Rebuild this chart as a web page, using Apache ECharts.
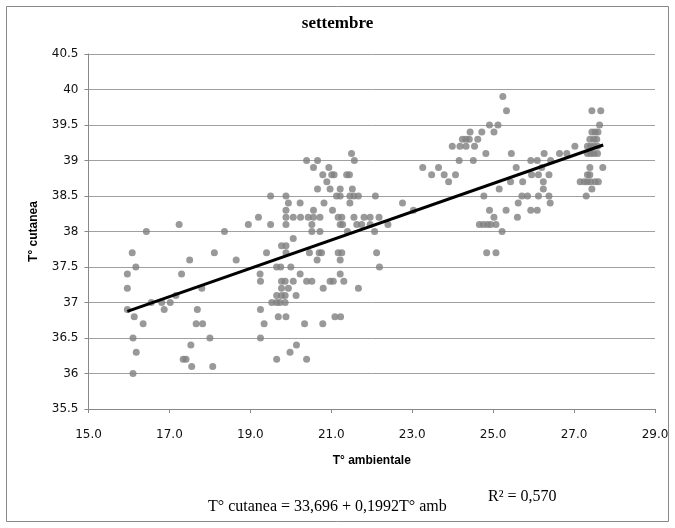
<!DOCTYPE html>
<html>
<head>
<meta charset="utf-8">
<script src="https://cdn.jsdelivr.net/npm/echarts@6/dist/echarts.min.js"></script>
<style>
  html, body { margin: 0; padding: 0; background: #fff; }
  #main { width: 675px; height: 528px; }
</style>
</head>
<body>
<div id="main"></div>
<script>
// T° ambientale (x) e T° cutanea (y)
var tAmb = [
  16.43, 17.24, 18.36, 16.08, 16.17, 15.96, 15.96, 17.30, 17.50, 18.11, 18.65, 17.80, 17.16, 16.55, 16.81, 17.02,
  15.96, 16.13, 16.87, 17.69, 16.35, 17.66, 17.82, 16.10, 18.00, 16.18, 17.53, 17.34, 17.41, 17.55, 18.07, 16.10,
  20.39, 20.66, 21.50, 21.57, 20.56, 20.94, 20.79, 21.01, 21.07, 21.38, 21.45, 20.89, 20.66, 20.97, 21.22, 21.52,
  19.50, 19.88, 21.13, 21.22, 21.46, 21.56, 21.67, 19.94, 20.23, 20.82, 21.46, 19.88, 20.56, 21.03, 19.88, 20.06,
  20.24, 20.43, 20.56, 20.72, 21.17, 21.26, 21.56, 19.20, 18.95, 19.50, 19.88, 20.52, 21.22, 21.28, 21.63, 20.52,
  20.72, 21.40, 20.06, 19.77, 19.88, 19.40, 19.88, 20.46, 20.70, 20.76, 21.17, 21.26, 20.65, 21.22, 19.65, 19.75,
  20.00, 19.24, 20.23, 21.22, 19.25, 19.77, 19.86, 20.06, 20.39, 20.52, 20.97, 21.05, 21.31, 19.77, 19.94, 20.80,
  21.67, 19.65, 19.77, 19.86, 20.13, 19.53, 19.65, 19.73, 19.86, 19.25, 19.69, 19.88, 19.34, 20.34, 20.79, 21.09,
  21.23, 19.25, 20.14, 19.98, 19.65, 20.39,
  25.24, 25.33, 24.91, 25.12, 25.02, 24.43, 24.72, 24.24, 24.33, 24.41, 24.62, 23.99, 24.18, 24.33, 24.54, 24.82,
  25.45, 24.16, 24.51, 23.26, 23.65, 23.48, 23.79, 24.07, 23.90, 22.09, 24.77, 25.15, 22.76, 23.03, 24.91, 25.32,
  21.81, 21.96, 22.18, 25.02, 21.75, 21.96, 22.40, 24.66, 24.76, 24.86, 24.94, 25.07, 22.07, 25.22, 22.12, 24.84,
  25.07, 22.19,
  25.57, 25.43, 25.73, 25.93, 26.09, 26.26, 26.42, 26.64, 26.82, 27.02, 25.95, 26.12, 26.38, 26.20, 26.24, 26.24,
  25.71, 25.85, 26.12, 26.38, 25.62, 26.41, 25.93, 26.09, 25.60,
  27.44, 27.66, 27.63, 27.44, 27.52, 27.59, 27.39, 27.49, 27.56, 27.33, 27.41, 27.49, 27.58, 27.33, 27.41, 27.49,
  27.58, 27.39, 27.71, 27.33, 27.39, 27.15, 27.25, 27.33, 27.41, 27.52, 27.60, 27.44, 27.30
];
var tCut = [
  38.0, 38.1, 38.0, 37.7, 37.5, 37.4, 37.2, 37.4, 37.6, 37.7, 37.6, 37.2, 37.1, 37.0, 37.0, 37.0,
  36.9, 36.8, 36.9, 36.9, 36.7, 36.7, 36.7, 36.5, 36.5, 36.3, 36.4, 36.2, 36.2, 36.1, 36.1, 36.0,
  39.0, 39.0, 39.1, 39.0, 38.9, 38.9, 38.8, 38.8, 38.8, 38.8, 38.8, 38.7, 38.6, 38.6, 38.6, 38.6,
  38.5, 38.5, 38.5, 38.5, 38.5, 38.5, 38.5, 38.4, 38.4, 38.4, 38.4, 38.3, 38.3, 38.3, 38.2, 38.2,
  38.2, 38.2, 38.2, 38.2, 38.2, 38.2, 38.2, 38.2, 38.1, 38.1, 38.1, 38.1, 38.1, 38.1, 38.1, 38.0,
  38.0, 38.0, 37.9, 37.8, 37.8, 37.7, 37.7, 37.7, 37.7, 37.7, 37.7, 37.7, 37.6, 37.6, 37.5, 37.5,
  37.5, 37.4, 37.4, 37.4, 37.3, 37.3, 37.3, 37.3, 37.3, 37.3, 37.3, 37.3, 37.3, 37.2, 37.2, 37.2,
  37.2, 37.1, 37.1, 37.1, 37.1, 37.0, 37.0, 37.0, 37.0, 36.9, 36.8, 36.8, 36.7, 36.7, 36.7, 36.8,
  36.8, 36.5, 36.4, 36.3, 36.2, 36.2,
  39.9, 39.7, 39.5, 39.5, 39.4, 39.4, 39.4, 39.3, 39.3, 39.3, 39.3, 39.2, 39.2, 39.2, 39.2, 39.1,
  39.1, 39.0, 39.0, 38.9, 38.9, 38.8, 38.8, 38.8, 38.7, 38.5, 38.5, 38.6, 38.4, 38.3, 38.3, 38.3,
  38.2, 38.2, 38.2, 38.2, 38.1, 38.1, 38.1, 38.1, 38.1, 38.1, 38.1, 38.1, 38.0, 38.0, 37.7, 37.7,
  37.7, 37.5,
  38.9, 38.7, 38.7, 39.0, 39.0, 39.1, 39.0, 39.1, 39.1, 39.2, 38.8, 38.8, 38.8, 38.9, 38.7, 38.6,
  38.5, 38.5, 38.5, 38.5, 38.4, 38.4, 38.3, 38.3, 38.2,
  39.7, 39.7, 39.5, 39.4, 39.4, 39.4, 39.3, 39.3, 39.3, 39.2, 39.2, 39.2, 39.2, 39.1, 39.1, 39.1,
  39.1, 38.9, 38.9, 38.8, 38.8, 38.7, 38.7, 38.7, 38.7, 38.7, 38.7, 38.6, 38.5
];

// retta di regressione: T° cutanea = 33,696 + 0,1992 T° amb
var intercetta = 33.696;
var pendenza = 0.1992;
var trendX = [15.96, 27.72];

var punti = tAmb.map(function (x, i) { return [x, tCut[i]]; });
var retta = trendX.map(function (x) { return [x, intercetta + pendenza * x]; });

var myChart = echarts.init(document.getElementById('main'));
var option = {
    animation: false,
    backgroundColor: '#fff',
    title: {
        text: 'settembre',
        left: 'center',
        top: 10,
        textStyle: {
            fontFamily: 'Liberation Serif',
            fontWeight: 'bold',
            fontSize: 17,
            color: '#000'
        }
    },
    grid: {
        left: 88.5,
        right: 20,
        top: 54,
        bottom: 119
    },
    xAxis: {
        type: 'value',
        min: 15,
        max: 29,
        interval: 2,
        name: 'T° ambientale',
        nameLocation: 'middle',
        nameGap: 46,
        nameTextStyle: {
            fontFamily: 'Liberation Sans',
            fontWeight: 'bold',
            fontSize: 12,
            color: '#000'
        },
        axisLine: { show: true, lineStyle: { color: '#888', width: 1 } },
        axisTick: { show: true, length: 4, lineStyle: { color: '#888' } },
        axisLabel: {
            margin: 20,
            fontFamily: 'DejaVu Sans',
            fontSize: 12,
            color: '#111',
            formatter: function (v) { return v.toFixed(1); }
        },
        splitLine: { show: false }
    },
    yAxis: {
        type: 'value',
        min: 35.5,
        max: 40.5,
        interval: 0.5,
        name: 'T° cutanea',
        nameLocation: 'middle',
        nameGap: 49,
        nameTextStyle: {
            fontFamily: 'Liberation Sans',
            fontWeight: 'bold',
            fontSize: 12,
            color: '#000'
        },
        axisLine: { show: true, lineStyle: { color: '#888', width: 1 } },
        axisTick: { show: true, length: 4, lineStyle: { color: '#888' } },
        axisLabel: {
            margin: 10,
            fontFamily: 'DejaVu Sans',
            fontSize: 12,
            color: '#111'
        },
        splitLine: { show: true, lineStyle: { color: '#a0a0a0', width: 1 } }
    },
    series: [
        {
            type: 'scatter',
            data: punti,
            symbol: 'circle',
            symbolSize: 7,
            itemStyle: { color: '#808080' },
            z: 2
        },
        {
            type: 'line',
            data: retta,
            symbol: 'none',
            lineStyle: { color: '#000', width: 3 },
            z: 3
        }
    ],
    graphic: [
        {
            type: 'rect',
            shape: { x: 6.5, y: 6.5, width: 662, height: 515 },
            style: { fill: 'none', stroke: '#888', lineWidth: 1 },
            silent: true
        },
        {
            type: 'text',
            left: 208,
            top: 499,
            style: {
                text: 'T° cutanea = 33,696 + 0,1992T° amb',
                font: '16px "Liberation Serif"',
                fill: '#000'
            }
        },
        {
            type: 'text',
            left: 488,
            top: 489,
            style: {
                text: 'R² = 0,570',
                font: '16px "Liberation Serif"',
                fill: '#000'
            }
        }
    ]
};
myChart.setOption(option);
</script>
</body>
</html>
